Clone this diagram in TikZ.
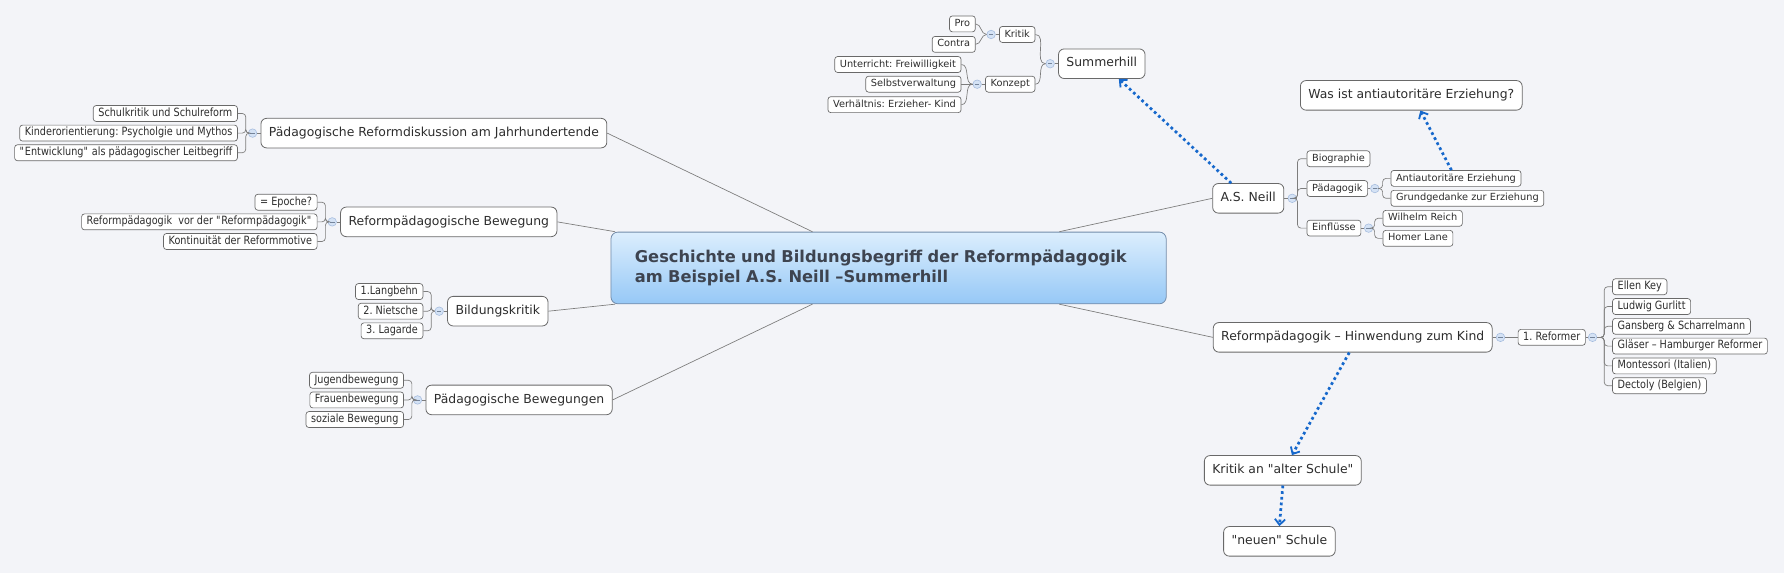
\documentclass[tikz,border=0pt]{standalone}
\usepackage{fontspec}
\setmainfont{DejaVu Sans}
\newfontfamily\narrowfont[FakeStretch=0.85]{DejaVu Sans}
\usepackage{tikz}
\usetikzlibrary{positioning}
\usetikzlibrary{calc}
\usetikzlibrary{arrows.meta}
\usepackage{xcolor}
\frenchspacing

\definecolor{canvas}{RGB}{243,244,248}
\definecolor{linkgray}{RGB}{125,125,125}
\definecolor{boxgray}{RGB}{105,105,105}
\definecolor{inkgray}{RGB}{45,45,45}
\definecolor{foldfill}{RGB}{212,226,245}
\definecolor{folddraw}{RGB}{165,188,222}
\definecolor{roottop}{RGB}{220,238,253}
\definecolor{rootbottom}{RGB}{150,200,246}
\definecolor{rootdraw}{RGB}{115,140,170}
\definecolor{roottext}{RGB}{62,68,80}
\definecolor{relblue}{RGB}{22,104,204}

\newcommand{\qd}{\textquotedbl}

\tikzset{
  topic/.style={draw=boxgray, line width=0.7pt, fill=white, rounded corners=5pt, text=inkgray,
    font=\fontsize{10.9}{12}\selectfont, inner xsep=7pt, inner ysep=0pt, minimum height=26pt,
    text height=8.2pt, text depth=2.6pt},
  sub/.style={draw=boxgray, line width=0.6pt, fill=white, rounded corners=2.5pt, text=inkgray,
    font=\fontsize{8.6}{10}\selectfont, inner xsep=4.5pt, inner ysep=0pt, minimum height=14pt,
    text height=6.6pt, text depth=2pt},
  leaf/.style={sub, font=\narrowfont\fontsize{10}{11}\selectfont, text height=7.3pt, text depth=2.3pt},
  fold/.style={circle, draw=folddraw, fill=foldfill, line width=0.5pt, minimum size=7.5pt, inner sep=0pt,
    path picture={\draw[folddraw!70!black, line width=0.5pt]
      ([xshift=-2pt]path picture bounding box.center) -- ([xshift=2pt]path picture bounding box.center);}},
  link/.style={linkgray, line width=0.6pt},
  bracket/.style={link, rounded corners=3pt},
  relation/.style={relblue, line width=2.4pt, dash pattern=on 2.4pt off 2.6pt,
    -{Straight Barb[length=5pt, width=9pt, line width=1.6pt]}}
}

\begin{document}
\begin{tikzpicture}[x=1pt, y=-1pt]
    \path[use as bounding box, fill=canvas] (0,0) rectangle (1568,503.6);

    \node[draw=rootdraw, line width=0.7pt, rounded corners=6pt, top color=roottop, bottom color=rootbottom,
      minimum width=488pt, minimum height=63pt, text width=446pt, inner xsep=21pt, align=left,
      text=roottext, font=\bfseries\fontsize{14.3}{18}\selectfont] (root) at (781,235.5)
      {Geschichte und Bildungsbegriff der Reformpädagogik\\am Beispiel A.S. Neill –Summerhill};

    % left branches
    \node[topic, anchor=west] (rd) at (229,117) {Pädagogische Reformdiskussion am Jahrhundertende};
    \node[fold] (frd) at ([xshift=-7pt]rd.west) {};
    \foreach \txt [count=\i] in {Schulkritik und Schulreform, Kinderorientierung: Psycholgie und Mythos,
        \qd Entwicklung\qd{} als pädagogischer Leitbegriff}
        \node[leaf, anchor=east] (rd\i) at (209,{117+17.25*(\i-2)}) {\txt};

    \node[topic, anchor=west] (rb) at (299,195) {Reformpädagogische Bewegung};
    \node[fold] (frb) at ([xshift=-7pt]rb.west) {};
    \foreach \txt [count=\i] in {= Epoche?, Reformpädagogik~ vor der \qd Reformpädagogik\qd, Kontinuität der Reformmotive}
        \node[leaf, anchor=east] (rb\i) at (279,{195+17.25*(\i-2)}) {\txt};

    \node[topic, anchor=west] (bk) at (393,273.5) {Bildungskritik};
    \node[fold] (fbk) at ([xshift=-7pt]bk.west) {};
    \foreach \txt [count=\i] in {1.Langbehn, 2. Nietsche, 3. Lagarde}
        \node[leaf, anchor=east] (bk\i) at (372,{273.5+17.25*(\i-2)}) {\txt};

    \node[topic, anchor=west] (pb) at (374,351.5) {Pädagogische Bewegungen};
    \node[fold] (fpb) at ([xshift=-7pt]pb.west) {};
    \foreach \txt [count=\i] in {Jugendbewegung, Frauenbewegung, soziale Bewegung}
        \node[leaf, anchor=east] (pb\i) at (355,{351.5+17.25*(\i-2)}) {\txt};

    \foreach \b in {rd,rb,bk,pb} {
        \foreach \i in {1,2,3}
            \draw[bracket] (\b\i.east) -- ++(7,0) |- (f\b);
        \draw[link] (f\b) -- (\b);
    }

    % summerhill
    \node[topic, anchor=west] (sh) at (930,56) {Summerhill};
    \node[fold] (fsh) at ([xshift=-7pt]sh.west) {};
    \node[sub, anchor=east] (kr) at (910,30.3) {Kritik};
    \node[sub, anchor=east] (ko) at (910,74) {Konzept};
    \node[fold] (fkr) at ([xshift=-7pt]kr.west) {};
    \node[fold] (fko) at ([xshift=-7pt]ko.west) {};
    \node[sub, anchor=east] (pro) at (857.5,21) {Pro};
    \node[sub, anchor=east] (con) at (857.5,39) {Contra};
    \node[sub, anchor=east] (ko1) at (845,56.7) {Unterricht: Freiwilligkeit};
    \node[sub, anchor=east] (ko2) at (845,74) {Selbstverwaltung};
    \node[sub, anchor=east] (ko3) at (845,92) {Verhältnis: Erzieher- Kind};
    \foreach \n in {kr,ko}
        \draw[link] (fsh) to[out=180,in=0] (\n.east);
    \foreach \n in {pro,con}
        \draw[link] (fkr) to[out=180,in=0] (\n.east);
    \foreach \n in {ko1,ko2,ko3}
        \draw[link] (fko) to[out=180,in=0] (\n.east);
    \draw[link] (fsh) -- (sh);
    \draw[link] (fkr) -- (kr);
    \draw[link] (fko) -- (ko);

    % a.s. neill
    \node[topic, anchor=west] (an) at (1065.5,174.3) {A.S. Neill};
    \node[fold] (fan) at ([xshift=7pt]an.east) {};
    \node[sub, anchor=west] (bio) at (1148.4,139.5) {Biographie};
    \node[sub, anchor=west] (pad) at (1148.4,165.7) {Pädagogik};
    \node[sub, anchor=west] (ein) at (1148.4,200.5) {Einflüsse};
    \foreach \n in {bio,pad,ein}
        \draw[bracket] (\n.west) -- ++(-8,0) |- (fan);
    \draw[link] (an) -- (fan);

    \node[fold] (fpad) at ([xshift=6pt]pad.east) {};
    \node[sub, anchor=west] (aa) at (1222.2,156.8) {Antiautoritäre Erziehung};
    \node[sub, anchor=west] (gz) at (1222.2,174.3) {Grundgedanke zur Erziehung};
    \foreach \n in {aa,gz}
        \draw[bracket] (\n.west) -- ++(-7,0) |- (fpad);
    \draw[link] (pad) -- (fpad);

    \node[fold] (fein) at ([xshift=6.5pt]ein.east) {};
    \node[sub, anchor=west] (wr) at (1215.2,191.9) {Wilhelm Reich};
    \node[sub, anchor=west] (hl) at (1215.2,209.5) {Homer Lane};
    \foreach \n in {wr,hl}
        \draw[bracket] (\n.west) -- ++(-7,0) |- (fein);
    \draw[link] (ein) -- (fein);

    \node[topic] (was) at (1240.4,83.8) {Was ist antiautoritäre Erziehung?};

    % reformer
    \node[topic, anchor=west] (rk) at (1066,296.5) {Reformpädagogik – Hinwendung zum Kind};
    \node[fold] (frk) at ([xshift=7pt]rk.east) {};
    \node[leaf, anchor=west] (ref) at (1334,296.5) {1. Reformer};
    \node[fold] (fref) at ([xshift=6pt]ref.east) {};
    \draw[link] (rk) -- (frk);
    \draw[link] (frk) -- (ref);
    \draw[link] (ref) -- (fref);
    \foreach \txt [count=\i] in {Ellen Key, Ludwig Gurlitt, Gansberg \& Scharrelmann,
        Gläser – Hamburger Reformer, Montessori (Italien), Dectoly (Belgien)}
        \node[leaf, anchor=west] (ref\i) at (1417,{252+17.4*(\i-1)}) {\txt};
    \foreach \i in {1,...,6}
        \draw[bracket] (ref\i.west) -- ++(-7,0) |- (fref);

    \node[topic] (ks) at (1127.5,413.4) {Kritik an \qd alter Schule\qd};
    \node[topic] (ns) at (1124.5,475.8) {\qd neuen\qd{} Schule};

    % main lines
    \draw[link] (rd.east) -- ($(root.north west)!0.363!(root.north east)$);
    \draw[link] (rb.east) -- ([xshift=4pt]root.north west);
    \draw[link] (bk.east) -- ([xshift=4pt]root.south west);
    \draw[link] (pb.east) -- ($(root.south west)!0.363!(root.south east)$);
    \draw[link] (an.west) -- ($(root.north west)!0.807!(root.north east)$);
    \draw[link] (rk.west) -- ($(root.south west)!0.807!(root.south east)$);

    % relations
    \draw[relation] ([xshift=-15pt]an.north) -- ([xshift=15pt]sh.south);
    \draw[relation] ([xshift=-4pt]aa.north) -- ([xshift=8pt]was.south);
    \draw[relation] ([xshift=-3pt]rk.south) -- ([xshift=8pt]ks.north);
    \draw[relation] (ks.south) -- (ns.north);
\end{tikzpicture}
\end{document}
